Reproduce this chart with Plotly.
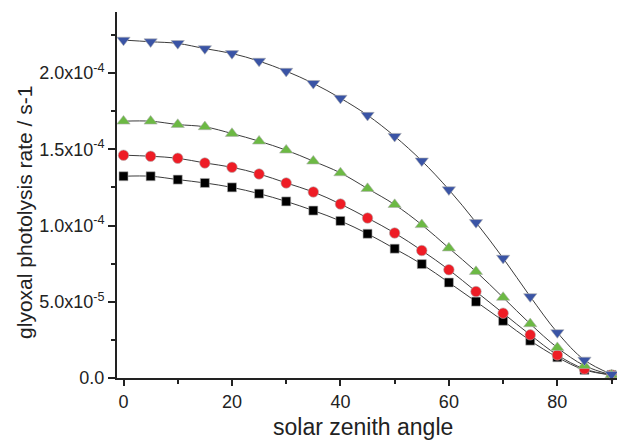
import plotly.graph_objects as go

# Solar zenith angle (degrees)
sza = [0, 5, 10, 15, 20, 25, 30, 35, 40, 45, 50, 55, 60, 65, 70, 75, 80, 85, 90]

# Glyoxal photolysis rates (s-1) for four cases
rate_black = [1.323e-4, 1.323e-4, 1.301e-4, 1.279e-4, 1.250e-4, 1.209e-4, 1.158e-4, 1.098e-4,
              1.030e-4, 9.46e-5, 8.48e-5, 7.47e-5, 6.26e-5, 5.01e-5, 3.75e-5, 2.45e-5,
              1.36e-5, 5.3e-6, 2.0e-6]
rate_red = [1.461e-4, 1.454e-4, 1.441e-4, 1.410e-4, 1.382e-4, 1.338e-4, 1.279e-4, 1.220e-4,
            1.141e-4, 1.049e-4, 9.51e-5, 8.36e-5, 7.10e-5, 5.67e-5, 4.25e-5, 2.83e-5,
            1.51e-5, 5.9e-6, 2.0e-6]
rate_green = [1.684e-4, 1.684e-4, 1.662e-4, 1.647e-4, 1.603e-4, 1.553e-4, 1.494e-4, 1.422e-4,
              1.345e-4, 1.242e-4, 1.137e-4, 1.005e-4, 8.52e-5, 6.98e-5, 5.28e-5, 3.55e-5,
              1.99e-5, 8.1e-6, 2.0e-6]
rate_blue = [2.216e-4, 2.205e-4, 2.194e-4, 2.160e-4, 2.128e-4, 2.078e-4, 2.012e-4, 1.932e-4,
             1.835e-4, 1.723e-4, 1.585e-4, 1.424e-4, 1.235e-4, 1.020e-4, 7.86e-5, 5.34e-5,
             2.98e-5, 1.18e-5, 2.4e-6]

y_tickvals = [0, 5e-5, 1e-4, 1.5e-4, 2e-4]
y_ticktext = ["0.0", "5.0x10<sup>-5</sup>", "1.0x10<sup>-4</sup>",
              "1.5x10<sup>-4</sup>", "2.0x10<sup>-4</sup>"]
y_minor = [2.5e-5, 7.5e-5, 1.25e-4, 1.75e-4, 2.25e-4]
x_tickvals = [0, 20, 40, 60, 80]
x_minor = [10, 30, 50, 70, 90]

series = [
    (rate_black, "square", "#000000", 9),
    (rate_red, "circle", "#ee1c25", 10.5),
    (rate_green, "triangle-up", "#6cb944", 11.5),
    (rate_blue, "triangle-down", "#3a54a5", 11.5),
]

fig = go.Figure()
for vals, sym, col, size in series:
    fig.add_trace(go.Scatter(
        x=sza, y=vals, mode="lines+markers",
        line=dict(color="#3c3c3c", width=1, shape="spline"),
        marker=dict(symbol=sym, color=col, size=size,
                    line=dict(color="#b0b0b0", width=0.6)),
        cliponaxis=False, showlegend=False,
    ))

font_family = "Liberation Sans, Arial, sans-serif"
ink = "#222222"

fig.update_layout(
    width=617, height=443,
    margin=dict(l=117, r=0, t=12, b=65),
    paper_bgcolor="white", plot_bgcolor="white",
    font=dict(family=font_family, color=ink),
    xaxis=dict(
        range=[-1.2, 91], showgrid=False, zeroline=False,
        showline=True, linecolor=ink, linewidth=2,
        tickmode="array", tickvals=x_tickvals,
        ticks="outside", ticklen=6, tickwidth=1.5, tickcolor=ink,
        tickfont=dict(size=18, family=font_family, color=ink),
        minor=dict(tickmode="array", tickvals=x_minor, ticks="outside",
                   ticklen=4, tickwidth=1.5, tickcolor=ink),
    ),
    yaxis=dict(
        range=[0, 2.4e-4], showgrid=False, zeroline=False,
        showline=True, linecolor=ink, linewidth=2,
        tickmode="array", tickvals=y_tickvals, ticktext=y_ticktext,
        ticks="outside", ticklen=7, tickwidth=1.5, tickcolor=ink,
        tickfont=dict(size=18, family=font_family, color=ink),
        minor=dict(tickmode="array", tickvals=y_minor, ticks="outside",
                   ticklen=4, tickwidth=1.5, tickcolor=ink),
    ),
    annotations=[
        dict(text="solar zenith angle", xref="paper", yref="paper",
             x=0.492, y=-0.175, xanchor="center", yanchor="bottom",
             showarrow=False, font=dict(size=23, family=font_family, color=ink)),
        dict(text="glyoxal photolysis rate / s-1", xref="paper", yref="paper",
             x=-0.184, y=0.451, xanchor="center", yanchor="middle", textangle=-90,
             showarrow=False, font=dict(size=21, family=font_family, color=ink)),
    ],
)

fig.write_html("out.html")
